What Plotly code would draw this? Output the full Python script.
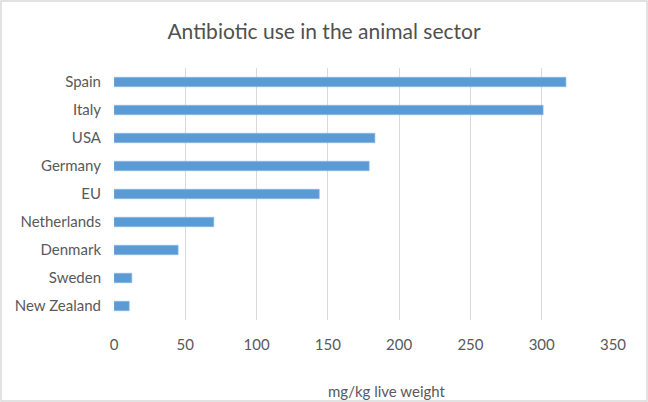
import plotly.graph_objects as go

countries = ["Spain", "Italy", "USA", "Germany", "EU", "Netherlands", "Denmark", "Sweden", "New Zealand"]
values = [317, 301, 183, 179, 144, 70, 45, 12.5, 10.7]
x_ticks = [0, 50, 100, 150, 200, 250, 300, 350]

FONT = "Lato, 'Open Sans', sans-serif"
GREY = "#595959"

fig = go.Figure(go.Bar(
    x=values, y=countries, orientation="h",
    marker=dict(color="#5b9bd5", line=dict(color="#8fbce6", width=0.6)),
    width=0.34, hoverinfo="x+y",
))

L, R, T, B = 114, 35, 68, 82
W, H = 648, 402
pw, ph = W - L - R, H - T - B

fig.update_layout(
    width=W, height=H,
    margin=dict(l=L, r=R, t=T, b=B),
    paper_bgcolor="white", plot_bgcolor="white",
    font=dict(family=FONT, color=GREY, size=15),
    title=dict(text="Antibiotic use in the animal sector", x=0.5, xanchor="center",
               y=1 - 32 / H, yanchor="middle", font=dict(size=21, color="#505050", family=FONT)),
    showlegend=False,
    xaxis=dict(range=[0, 350], tickvals=x_ticks, showgrid=True, gridcolor="#d9d9d9", gridwidth=1,
               zeroline=False, showline=False, ticks="outside", ticklen=11, tickcolor="rgba(0,0,0,0)",
               tickfont=dict(size=15, color=GREY, family=FONT)),
    yaxis=dict(categoryorder="array", categoryarray=countries, autorange="reversed",
               showgrid=False, zeroline=False, showline=False, ticks="", ticklabelstandoff=12,
               tickfont=dict(size=15, color=GREY, family=FONT)),
    annotations=[dict(text="mg/kg live weight", xref="paper", yref="paper",
                      x=(387 - L) / pw, y=-(391 - (T + ph)) / ph, xanchor="center", yanchor="middle",
                      showarrow=False, font=dict(size=15, color=GREY, family=FONT))],
    shapes=[dict(type="rect", xref="paper", yref="paper",
                 x0=-(L - 1) / pw, x1=1 + (R - 1) / pw, y0=-(B - 1) / ph, y1=1 + (T - 1) / ph,
                 line=dict(color="#d9d9d9", width=1.5), fillcolor="rgba(0,0,0,0)", layer="below")],
)

fig.write_html("out.html", config={"displayModeBar": False},
               post_script="document.body.style.margin='0';document.body.style.overflow='hidden';")
